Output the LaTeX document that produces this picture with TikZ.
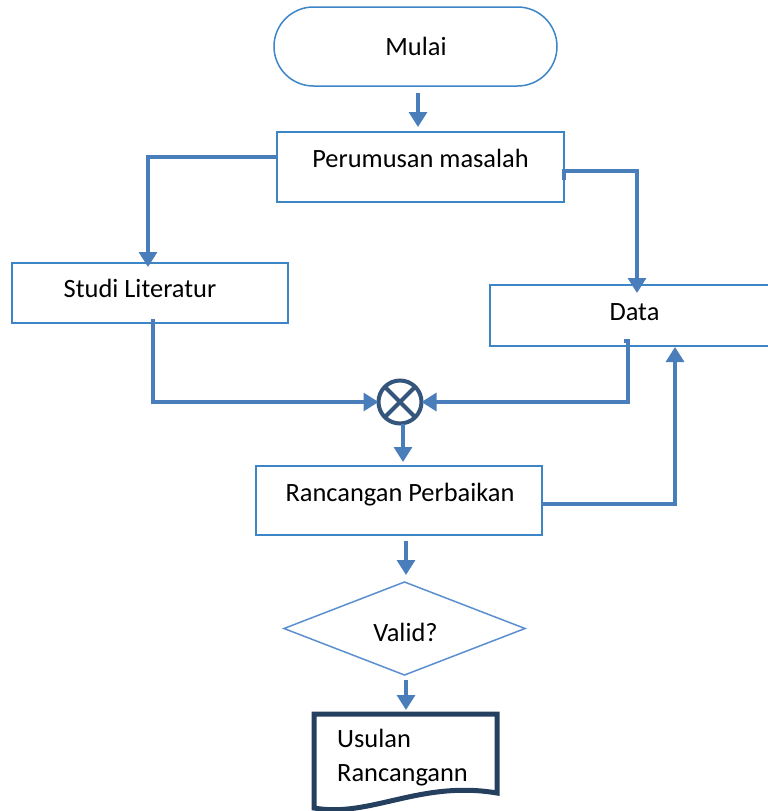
\documentclass[tikz,border=0pt]{standalone}
\usepackage{fontspec}
\setmainfont{Carlito}
\usetikzlibrary{arrows.meta,calc,shapes.geometric}
\definecolor{boxc}{HTML}{3C86C8}
\definecolor{diac}{HTML}{5B8FD0}
\definecolor{connc}{HTML}{4A7EBB}
\definecolor{circc}{HTML}{34557C}
\definecolor{docc}{HTML}{253F5E}
\begin{document}
\begin{tikzpicture}[x=1pt,y=-1pt,
  box/.style={draw=boxc,line width=1.5pt,rectangle,inner sep=0pt,outer sep=0pt},
  txt/.style={inner sep=0pt,font=\fontsize{26.4}{34}\selectfont,text=black},
  conn/.style={draw=connc,line width=3.2pt,-{Triangle[length=15pt,width=18pt]}},
  plain/.style={draw=connc,line width=3.2pt}]
\useasboundingbox (0,0) rectangle (768,811);
\fill[white] (0,0) rectangle (768,811);

% nodes
\node[box,rounded corners=39.5pt,minimum width=283,minimum height=79] (mulai) at (415.5,46.5) {};
\node[txt,anchor=base] (tmulai) at (416,55) {Mulai};

\node[box,minimum width=287,minimum height=70] (perum) at (420.5,167) {};
\node[txt,anchor=base] (tperum) at (420.5,167) {Perumusan masalah};

\node[box,minimum width=276,minimum height=60] (studi) at (150,293) {};
\node[txt,anchor=base] (tstudi) at (140,297) {Studi Literatur};

\node[box,minimum width=282,minimum height=61] (data) at (631,315.5) {};
\node[txt,anchor=base] (tdata) at (634.5,320) {Data};

\node[draw=circc,line width=4pt,circle,minimum size=43,inner sep=0pt,outer sep=0pt] (circ) at (400,402) {};
\draw[circc,line width=4pt] (circ.north west) -- (circ.south east)
  (circ.north east) -- (circ.south west);

\node[box,minimum width=286,minimum height=69] (ranc) at (399,500.5) {};
\node[txt,anchor=base] (tranc) at (400,501) {Rancangan Perbaikan};

\node[draw=diac,line width=1.5pt,diamond,minimum width=241,minimum height=93,inner sep=0pt,outer sep=0pt] (valid) at (404.5,628.5) {};
\node[txt,anchor=base] (tvalid) at (405.5,641) {Valid?};

\node[minimum width=183,minimum height=94,inner sep=0pt,outer sep=0pt] (doc) at (405.5,761) {};
\draw[docc,line width=5pt,line join=miter]
  (doc.north west) -- (doc.north east) -- ($(doc.north east)+(0,79)$)
  .. controls (420,780) and (370,818) .. ($(doc.north west)+(0,94)$) -- cycle;
\node[txt,anchor=base west,align=left] (tdoc) at (337,781) {Usulan\\Rancangann};

% connectors
\draw[conn] ($(mulai.south)+(2.5,7)$) -- ($(perum.north)+(-2.5,-5)$);
\draw[conn] ($(perum.west)+(0,-10)$) -| ($(studi.north)+(-2,4)$);
\draw[conn] ($(perum.east)+(0,13)$) -- ($(perum.east)+(0,4)$) -| ($(data.north)+(6,8)$);
\draw[conn] ($(studi.south)+(3,-4)$) |- (circ.west);
\draw[conn] ($(data.south)+(-7,-5)$) -- ($(data.south)+(-3,-5)$) |- (circ.east);
\draw[conn] ($(circ.south)+(3,0)$) -- ($(ranc.north)+(4,-4)$);
\draw[conn] ($(ranc.east)+(0,3.5)$) -| ($(data.south)+(44,1)$);
\draw[conn] ($(ranc.south)+(7,6)$) -- ($(valid.north)+(1.5,-7)$);
\draw[conn] ($(valid.south)+(1.5,5)$) -- ($(doc.north)+(0.5,-4)$);
\end{tikzpicture}
\end{document}
